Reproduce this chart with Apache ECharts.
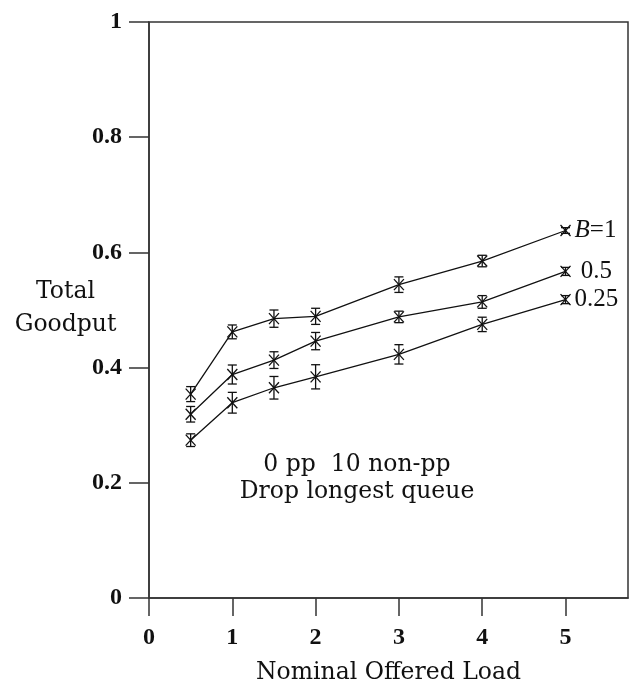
<!DOCTYPE html>
<html>
<head>
<meta charset="utf-8">
<script src="https://cdn.jsdelivr.net/npm/echarts@6/dist/echarts.min.js"></script>
<style>
  html, body { margin: 0; padding: 0; background: #fff; }
  #chart { width: 634px; height: 690px; }
</style>
</head>
<body>
<div id="chart"></div>
<script>
// Offered load on the x axis
const loads = [0.5, 1, 1.5, 2, 3, 4, 5];

// Total goodput and half-width of the error bars for each buffer size B
const goodputB1   = [0.354, 0.462, 0.485, 0.489, 0.544, 0.585, 0.638];
const errB1       = [0.013, 0.012, 0.015, 0.014, 0.0135, 0.010, 0.005];
const goodputB05  = [0.319, 0.388, 0.413, 0.446, 0.488, 0.514, 0.567];
const errB05      = [0.0135, 0.0165, 0.0145, 0.015, 0.010, 0.011, 0.007];
const goodputB025 = [0.274, 0.339, 0.365, 0.384, 0.423, 0.475, 0.518];
const errB025     = [0.011, 0.018, 0.0196, 0.021, 0.0168, 0.0125, 0.007];

const curveLabels = ['{i|B}=1', ' 0.5', '0.25'];
const xTicks = [0, 1, 2, 3, 4, 5];
const yTicks = [0, 0.2, 0.4, 0.6, 0.8, 1];

const SERIF = '"DejaVu Serif", "Liberation Serif", serif';
const NUM = '"Liberation Serif", "DejaVu Serif", serif';
const INK = '#111';
const AXIS = '#333';

const curves = [
  { y: goodputB1, e: errB1 },
  { y: goodputB05, e: errB05 },
  { y: goodputB025, e: errB025 }
];

// Error bar with caps plus an "x" marker at the mean
function renderErrorBar(params, api) {
  const x = api.value(0), y = api.value(1), lo = api.value(2), hi = api.value(3);
  const c = api.coord([x, y]);
  const top = api.coord([x, hi]);
  const bot = api.coord([x, lo]);
  const cap = 4.5, mx = 5, my = 5.5;
  const st = { stroke: INK, lineWidth: 1.3 };
  const line = (x1, y1, x2, y2) => ({ type: 'line', shape: { x1, y1, x2, y2 }, style: st });
  return {
    type: 'group',
    children: [
      line(top[0], top[1], bot[0], bot[1]),
      line(top[0] - cap, top[1], top[0] + cap, top[1]),
      line(bot[0] - cap, bot[1], bot[0] + cap, bot[1]),
      line(c[0] - mx, c[1] - my, c[0] + mx, c[1] + my),
      line(c[0] - mx, c[1] + my, c[0] + mx, c[1] - my)
    ]
  };
}

const series = [];
curves.forEach((cv, k) => {
  series.push({
    type: 'line',
    data: loads.map((x, i) => [x, cv.y[i]]),
    symbol: 'none',
    lineStyle: { color: INK, width: 1.3 },
    endLabel: {
      show: true,
      formatter: () => curveLabels[k],
      color: INK,
      fontFamily: NUM,
      fontSize: 25,
      distance: 9,
      rich: { i: { fontStyle: 'italic', fontFamily: NUM, fontSize: 25, color: INK } }
    },
    silent: true,
    animation: false,
    z: 2
  });
  series.push({
    type: 'custom',
    renderItem: renderErrorBar,
    data: loads.map((x, i) => [x, cv.y[i], cv.y[i] - cv.e[i], cv.y[i] + cv.e[i]]),
    encode: { x: 0, y: [1, 2, 3] },
    silent: true,
    animation: false,
    z: 3
  });
});

const chart = echarts.init(document.getElementById('chart'), null, { renderer: 'canvas' });
chart.setOption({
  backgroundColor: '#fff',
  animation: false,
  grid: {
    left: 149, right: 6, top: 22, bottom: 91,
    show: true, borderColor: AXIS, borderWidth: 1.5, backgroundColor: 'transparent'
  },
  xAxis: {
    type: 'value', min: 0, max: 5.75,
    name: 'Nominal Offered Load',
    nameLocation: 'middle', nameGap: 63,
    nameTextStyle: { fontFamily: SERIF, fontSize: 23.5, color: INK },
    axisLine: { show: true, lineStyle: { color: AXIS, width: 1.5 } },
    axisTick: { show: true, length: 18, customValues: xTicks, lineStyle: { color: AXIS, width: 1.5 } },
    axisLabel: {
      customValues: xTicks, margin: 28,
      fontFamily: NUM, fontSize: 24, fontWeight: 'bold', color: INK
    },
    splitLine: { show: false }
  },
  yAxis: {
    type: 'value', min: 0, max: 1,
    axisLine: { show: true, lineStyle: { color: AXIS, width: 1.5 } },
    axisTick: { show: true, length: 20, customValues: yTicks, lineStyle: { color: AXIS, width: 1.5 } },
    axisLabel: {
      customValues: yTicks, margin: 27,
      formatter: v => String(Math.round(v * 10) / 10),
      fontFamily: NUM, fontSize: 24, fontWeight: 'bold', color: INK
    },
    splitLine: { show: false }
  },
  graphic: [
    {
      type: 'text', silent: true,
      position: [65.5, 308],
      style: {
        text: 'Total\nGoodput',
        align: 'center', verticalAlign: 'middle', lineHeight: 33,
        fontFamily: SERIF, fontSize: 23.5, fill: INK
      }
    },
    {
      type: 'text', silent: true,
      position: [357, 478],
      style: {
        text: '0 pp  10 non-pp\nDrop longest queue',
        align: 'center', verticalAlign: 'middle', lineHeight: 27,
        fontFamily: SERIF, fontSize: 23.5, fill: INK
      }
    }
  ],
  series: series
});
</script>
</body>
</html>
